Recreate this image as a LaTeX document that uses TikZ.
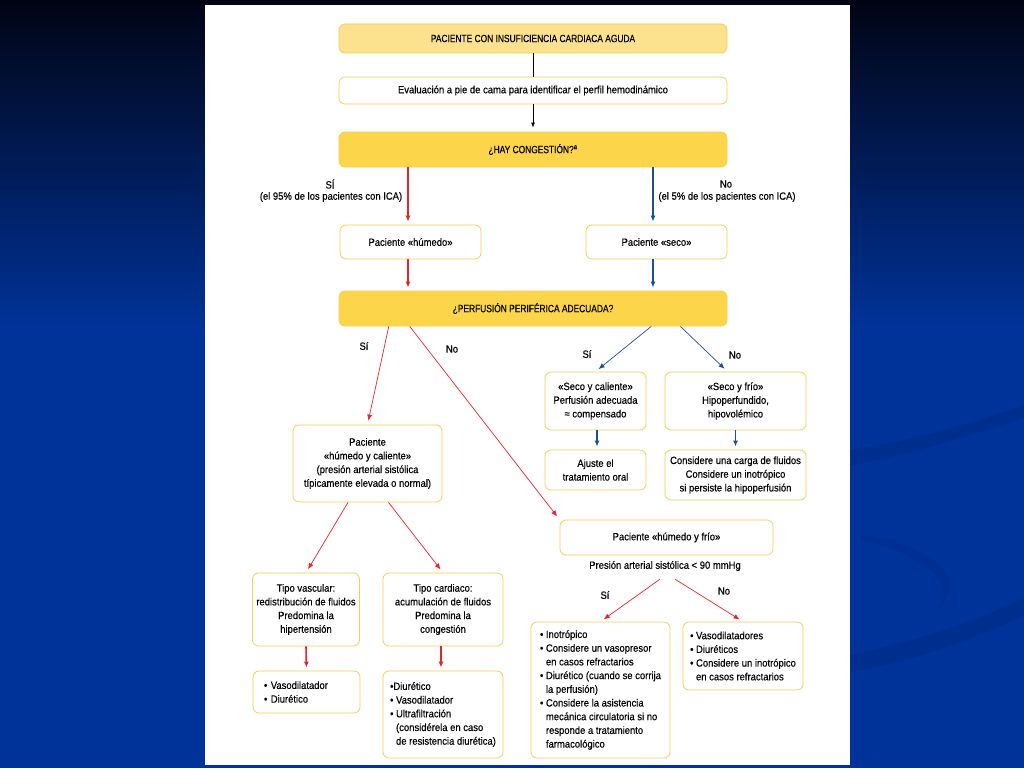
\documentclass[tikz,border=0pt]{standalone}
\usepackage{fontspec}
\setmainfont{Liberation Sans}[FakeStretch=0.9,FakeBold=0.3]
\newfontfamily\mayus{Liberation Sans}[FakeStretch=0.8,FakeBold=0.3]
\usetikzlibrary{arrows.meta,calc}
\definecolor{fondo}{RGB}{0,51,153}
\definecolor{fondoalto}{RGB}{1,4,20}
\definecolor{banda}{RGB}{0,42,135}
\definecolor{oro}{RGB}{253,213,74}
\definecolor{crema}{RGB}{252,226,142}
\definecolor{borde}{RGB}{246,206,80}
\definecolor{rojo}{RGB}{228,38,43}
\definecolor{azul}{RGB}{31,78,154}
\begin{document}
\begin{tikzpicture}[x=1pt,y=-1pt,
  caja/.style={draw=borde,line width=0.8pt,rounded corners=6pt,fill=white,
    align=center,inner sep=0pt,font=\fontsize{10.5}{13.7}\selectfont},
  dorada/.style={caja,fill=oro,font=\fontsize{10.5}{13.7}\mayus},
  palida/.style={caja,fill=crema,font=\fontsize{10.5}{13.7}\mayus},
  lista/.style={caja,align=left},
  tam/.style 2 args={minimum width=#1,minimum height=#2},
  etq/.style={font=\fontsize{10.5}{13.7}\selectfont,inner sep=0pt,align=center},
  flr/.style={draw=rojo,line width=1.6pt,-{Latex[length=6pt,width=5pt]},shorten >=3pt},
  fla/.style={draw=azul,line width=1.6pt,-{Latex[length=6pt,width=5pt]},shorten >=3pt},
  fdr/.style={draw=rojo,line width=0.7pt,-{Latex[length=6pt,width=5pt]},shorten >=4pt},
  fda/.style={draw=azul,line width=0.7pt,-{Latex[length=6pt,width=5pt]},shorten >=4pt}]
\useasboundingbox (0,0) rectangle (1024,768);
\shade[top color=fondoalto,bottom color=fondo] (0,0) rectangle (1024,330);
\fill[fondo] (0,329) rectangle (1024,768);
\fill[banda,opacity=0.5] (850,450) .. controls (920,440) and (980,420) .. (1024,405)
  -- (1024,418) .. controls (980,432) and (920,452) .. (850,466) -- cycle;
\fill[banda,opacity=0.5] (850,655) .. controls (920,640) and (980,620) .. (1024,598)
  -- (1024,615) .. controls (980,637) and (920,660) .. (850,672) -- cycle;
\fill[banda,opacity=0.4] (862,535) .. controls (930,545) and (975,580) .. (935,612)
  .. controls (960,585) and (925,555) .. (862,540) -- cycle;
\fill[white] (205,5) rectangle (850,765);

\node[palida,tam={388pt}{29pt}] (inicio) at (533,38.5) {PACIENTE CON INSUFICIENCIA CARDIACA AGUDA};
\node[caja,tam={388pt}{27pt}] (eval) at (533,90.5) {Evaluación a pie de cama para identificar el perfil hemodinámico};
\node[dorada,tam={388pt}{35pt}] (cong) at (533,149.5) {¿HAY CONGESTIÓN?\textsuperscript{a}};
\node[caja,tam={141pt}{34pt}] (humedo) at (410.5,242) {Paciente «húmedo»};
\node[caja,tam={141pt}{34pt}] (seco) at (656.5,242) {Paciente «seco»};
\node[dorada,tam={388pt}{35pt}] (perf) at (533,308.5) {¿PERFUSIÓN PERIFÉRICA ADECUADA?};
\node[caja,tam={101pt}{58pt}] (scal) at (595.5,401) {«Seco y caliente»\\Perfusión adecuada\\≈ compensado};
\node[caja,tam={141pt}{58pt}] (sfrio) at (735.5,401) {«Seco y frío»\\Hipoperfundido,\\hipovolémico};
\node[caja,tam={101pt}{40pt}] (ajuste) at (595.5,470) {Ajuste el\\tratamiento oral};
\node[caja,tam={141pt}{50pt}] (carga) at (735.5,475) {Considere una carga de fluidos\\Considere un inotrópico\\si persiste la hipoperfusión};
\node[caja,tam={149pt}{77pt}] (hcal) at (367.5,463.5) {Paciente\\«húmedo y caliente»\\(presión arterial sistólica\\típicamente elevada o normal)};
\node[caja,tam={213pt}{35pt}] (hfrio) at (666.5,537.5) {Paciente «húmedo y frío»};
\node[etq] (pas) at (665,566) {Presión arterial sistólica < 90 mmHg};
\node[caja,tam={107pt}{73pt}] (vasc) at (306,609.5) {Tipo vascular:\\redistribución de fluidos\\Predomina la\\hipertensión};
\node[caja,tam={120pt}{73pt}] (card) at (443,609.5) {Tipo cardiaco:\\acumulación de fluidos\\Predomina la\\congestión};
\node[lista,tam={107pt}{42pt},text width=85pt] (tvasc) at (306.5,692) {• Vasodilatador\\• Diurético};
\node[lista,tam={120pt}{87pt}] (tcard) at (443,714.5) {•Diurético\\• Vasodilatador\\• Ultrafiltración\\\phantom{• }(considérela en caso\\\phantom{• }de resistencia diurética)};
\node[lista,tam={139pt}{136pt}] (tsi) at (600.5,690) {• Inotrópico\\• Considere un vasopresor\\\phantom{• }en casos refractarios\\• Diurético (cuando se corrija\\\phantom{• }la perfusión)\\• Considere la asistencia\\\phantom{• }mecánica circulatoria si no\\\phantom{• }responde a tratamiento\\\phantom{• }farmacológico};
\node[lista,tam={120pt}{68pt}] (tno) at (743,656) {• Vasodilatadores\\• Diuréticos\\• Considere un inotrópico\\\phantom{• }en casos refractarios};

\node[etq] (si1) at (330,184) {SÍ};
\node[etq] (si1b) at (331,197) {(el 95\% de los pacientes con ICA)};
\node[etq] (no1) at (726,184) {No};
\node[etq] (no1b) at (727,197) {(el 5\% de los pacientes con ICA)};
\node[etq] (si2) at (364,346) {Sí};
\node[etq] (no2) at (452,349) {No};
\node[etq] (si3) at (587,354) {Sí};
\node[etq] (no3) at (735,355) {No};
\node[etq] (si4) at (605,595) {Sí};
\node[etq] (no4) at (724,591) {No};

\draw[line width=0.8pt] (inicio) -- (eval);
\draw[line width=0.8pt,-{Latex[length=5pt,width=4pt]},shorten >=4pt] (eval) -- (cong);
\draw[flr] (cong.south -| 408,0) -- (humedo.north -| 408,0);
\draw[fla] (cong.south -| 653,0) -- (seco.north -| 653,0);
\draw[flr] (humedo.south -| 408,0) -- (perf.north -| 408,0);
\draw[fla] (seco.south -| 653,0) -- (perf.north -| 653,0);
\draw[fdr] ($(perf.south west)!0.129!(perf.south east)$) -- (hcal.north);
\draw[fdr] ($(perf.south west)!0.183!(perf.south east)$) -- (hfrio.north west);
\draw[fda] ($(perf.south west)!0.804!(perf.south east)$) -- (scal.north);
\draw[fda] ($(perf.south west)!0.879!(perf.south east)$) -- ([xshift=-8pt]sfrio.north);
\draw[fla] (scal.south -| 597,0) -- (ajuste.north -| 597,0);
\draw[fla] (sfrio.south) -- (carga.north);
\draw[fdr] ($(hcal.south west)!0.37!(hcal.south east)$) -- (vasc.north);
\draw[fdr] ($(hcal.south west)!0.64!(hcal.south east)$) -- (card.north);
\draw[flr] (vasc.south) -- (tvasc.north);
\draw[flr] (card.south -| 441,0) -- (tcard.north -| 441,0);
\draw[fdr] ([xshift=-5pt,yshift=-8pt]pas.south) -- (tsi.north);
\draw[fdr] ([xshift=10pt,yshift=-8pt]pas.south) -- (tno.north);
\end{tikzpicture}
\end{document}
